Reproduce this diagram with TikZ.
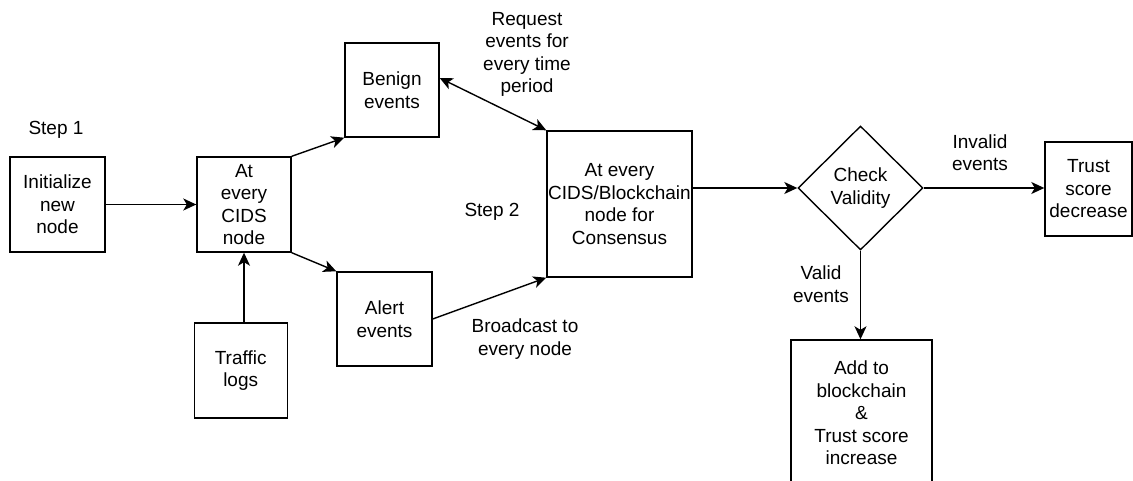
\documentclass[tikz,border=0pt]{standalone}
\usepackage{fontspec}
\setmainfont{Liberation Sans}
\usetikzlibrary{arrows.meta,shapes.geometric}

\begin{document}
\begin{tikzpicture}[x=1pt, y=-1pt,
    every node/.style={font=\fontsize{19}{22.5}\selectfont, align=center},
    box/.style={draw, line width=1.4pt, inner sep=0pt},
    decision/.style={draw, diamond, line width=1.4pt, inner sep=0pt,
        minimum width=125pt, minimum height=124pt},
    tip/.style={Stealth[length=13pt, width=12pt, inset=3.5pt]},
    arrow/.style={line width=1.4pt, -{Stealth[length=13pt, width=12pt, inset=3.5pt]}}]
    \useasboundingbox (0,0) rectangle (1133,481);

    % 左侧框
    \node[box, minimum width=95pt, minimum height=95pt] (init) at (57.5,204.5) {Initialize\\new\\node};
    \node[box, minimum width=94pt, minimum height=95pt] (cids) at (244,204.5) {At\\every\\CIDS\\node};
    \node[box, minimum width=93pt, minimum height=95pt] (traffic) at (240.7,370.5) {Traffic\\logs};

    % 事件框
    \node[box, minimum width=94pt, minimum height=94pt] (benign) at (392,90) {Benign\\events};
    \node[box, minimum width=95pt, minimum height=94pt] (alert) at (384.5,319) {Alert\\events};

    % 共识框
    \node[box, minimum width=145pt, minimum height=146pt] (consensus) at (619.5,204) {At every\\CIDS/Blockchain\\node for\\Consensus};

    % 右侧
    \node[decision] (check) at (860.5,188) {Check\\Validity};
    \node[box, minimum width=87pt, minimum height=94pt] (decrease) at (1088.5,189) {Trust\\score\\decrease};
    \node[box, minimum width=141pt, minimum height=146pt] (add) at (861.5,413) {Add to\\blockchain\\\&\\Trust score\\increase};

    % 连线
    \draw[arrow] (init) -- (cids);
    \draw[arrow] (cids.south |- traffic.north) -- (cids.south);
    \draw[arrow] (cids.north east) -- (benign.south west);
    \draw[arrow] (cids.south east) -- (alert.north west);
    \draw[line width=1.4pt, {Stealth[length=13pt, width=12pt, inset=3.5pt]}-{Stealth[length=13pt, width=12pt, inset=3.5pt]}]
        ([yshift=12pt]benign.east) -- (consensus.north west);
    \draw[arrow] (alert.east) -- (consensus.south west);
    \draw[arrow] (consensus.east |- check.west) -- (check.west);
    \draw[arrow] (check.east) -- (decrease.west |- check.east);
    \draw[arrow] (check.south) -- (check.south |- add.north);

    % 标注
    \node (step1) at (56,130) {Step 1};
    \node (step2) at (492,212) {Step 2};
    \node (request) at (527,54.5) {Request\\events for\\every time\\period};
    \node (broadcast) at (525,339) {Broadcast to\\every node};
    \node (invalid) at (980,152.5) {Invalid\\events};
    \node (valid) at (821,284) {Valid\\events};
\end{tikzpicture}
\end{document}
